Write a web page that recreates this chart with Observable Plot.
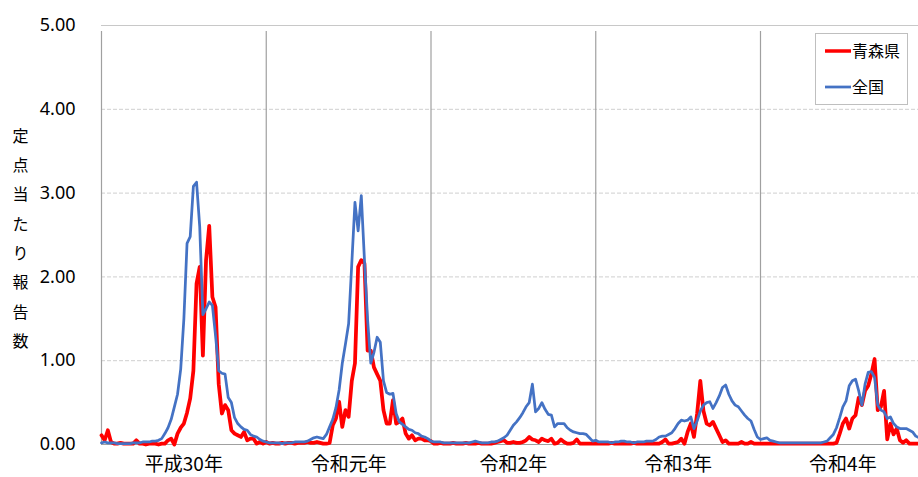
<!DOCTYPE html>
<html><head><meta charset="utf-8">
<script src="https://cdn.jsdelivr.net/npm/d3@7"></script>
<script src="https://cdn.jsdelivr.net/npm/@observablehq/plot@0.6"></script>
<style>
html,body{margin:0;padding:0;background:#fff;overflow:hidden}
</style>
</head><body><div id="chart"></div>
<script>
// Year labels (x categories)
const years = ["平成30年","令和元年","令和2年","令和3年","令和4年"];
const weeksPerYear = 52;
const yTicks = [0,1,2,3,4,5];
const yTitle = "定点当たり報告数";
const seriesNames = ["青森県","全国"];

// 青森県 weekly values per year
const aomori_H30 = [0.11,0.05,0.17,0.03,0.01,0.01,0.02,0.01,0.01,0.01,0.01,0.05,0.01,0.01,0.00,0.01,0.01,0.01,0.00,0.01,0.01,0.05,0.07,0.00,0.13,0.20,0.25,0.38,0.55,0.88,1.92,2.12,1.06,2.20,2.61,1.76,1.64,0.72,0.37,0.47,0.41,0.17,0.13,0.11,0.09,0.15,0.05,0.07,0.07,0.01,0.03,0.01];
const aomori_R1 = [0.03,0.01,0.02,0.01,0.01,0.02,0.01,0.02,0.02,0.01,0.02,0.02,0.02,0.03,0.02,0.02,0.03,0.02,0.01,0.01,0.02,0.23,0.31,0.51,0.21,0.41,0.33,0.76,0.97,2.12,2.20,2.16,1.12,1.12,0.92,0.84,0.76,0.41,0.25,0.25,0.53,0.25,0.27,0.31,0.13,0.07,0.11,0.05,0.07,0.07,0.05,0.05];
const aomori_R2 = [0.04,0.01,0.01,0.02,0.01,0.01,0.01,0.02,0.01,0.01,0.01,0.02,0.01,0.01,0.01,0.02,0.01,0.01,0.01,0.01,0.02,0.03,0.04,0.05,0.02,0.02,0.03,0.02,0.02,0.03,0.05,0.09,0.06,0.05,0.03,0.07,0.05,0.04,0.07,0.01,0.02,0.06,0.03,0.01,0.01,0.02,0.06,0.01,0.01,0.01,0.01,0.01];
const aomori_R3 = [0.01,0.01,0.01,0.01,0.01,0.02,0.01,0.01,0.01,0.01,0.01,0.01,0.02,0.01,0.01,0.01,0.01,0.01,0.01,0.01,0.01,0.03,0.06,0.01,0.01,0.02,0.03,0.07,0.01,0.15,0.25,0.09,0.37,0.76,0.40,0.25,0.23,0.27,0.19,0.11,0.03,0.05,0.01,0.01,0.01,0.01,0.03,0.01,0.01,0.03,0.01,0.01];
const aomori_R4 = [0.01,0.01,0.01,0.01,0.01,0.01,0.01,0.01,0.01,0.01,0.01,0.01,0.01,0.01,0.01,0.01,0.01,0.01,0.01,0.01,0.01,0.01,0.01,0.01,0.02,0.13,0.25,0.31,0.19,0.31,0.35,0.56,0.47,0.64,0.70,0.84,1.02,0.41,0.45,0.64,0.06,0.25,0.12,0.19,0.05,0.02,0.05,0.01,0.01,0.01,0.01];

// 全国 weekly values per year
const zenkoku_H30 = [0.02,0.03,0.02,0.02,0.02,0.01,0.01,0.01,0.01,0.01,0.02,0.02,0.02,0.03,0.03,0.03,0.04,0.04,0.05,0.07,0.13,0.20,0.30,0.45,0.60,0.90,1.50,2.40,2.48,3.08,3.13,2.60,1.55,1.62,1.70,1.66,1.30,0.88,0.85,0.84,0.56,0.50,0.32,0.25,0.21,0.18,0.17,0.12,0.10,0.09,0.06,0.04];
const zenkoku_R1 = [0.03,0.02,0.02,0.02,0.02,0.01,0.02,0.02,0.02,0.03,0.03,0.03,0.03,0.04,0.06,0.08,0.09,0.08,0.07,0.12,0.21,0.30,0.44,0.65,0.97,1.20,1.44,2.16,2.89,2.55,2.97,2.20,1.48,0.97,1.10,1.28,1.22,0.76,0.62,0.60,0.61,0.37,0.27,0.24,0.21,0.18,0.17,0.14,0.13,0.10,0.09,0.07];
const zenkoku_R2 = [0.04,0.03,0.03,0.03,0.02,0.02,0.02,0.02,0.02,0.02,0.02,0.02,0.02,0.03,0.04,0.03,0.02,0.02,0.02,0.03,0.03,0.04,0.06,0.08,0.11,0.17,0.23,0.27,0.32,0.38,0.45,0.50,0.72,0.39,0.43,0.50,0.42,0.36,0.35,0.21,0.25,0.25,0.25,0.20,0.17,0.15,0.14,0.13,0.13,0.12,0.08,0.04];
const zenkoku_R3 = [0.05,0.03,0.03,0.03,0.03,0.02,0.03,0.03,0.04,0.04,0.03,0.03,0.02,0.03,0.03,0.03,0.04,0.04,0.04,0.06,0.09,0.10,0.10,0.12,0.14,0.19,0.25,0.29,0.28,0.29,0.33,0.19,0.28,0.40,0.47,0.50,0.51,0.43,0.50,0.58,0.68,0.71,0.60,0.52,0.47,0.45,0.40,0.35,0.31,0.28,0.18,0.09];
const zenkoku_R4 = [0.06,0.07,0.08,0.05,0.04,0.03,0.02,0.02,0.02,0.02,0.02,0.02,0.02,0.02,0.02,0.02,0.02,0.02,0.02,0.02,0.03,0.04,0.08,0.12,0.20,0.32,0.45,0.52,0.70,0.76,0.78,0.64,0.47,0.72,0.86,0.87,0.80,0.47,0.41,0.39,0.31,0.33,0.25,0.21,0.19,0.19,0.19,0.17,0.15,0.10,0.08];

const aomoriYears = [aomori_H30, aomori_R1, aomori_R2, aomori_R3, aomori_R4];
const zenkokuYears = [zenkoku_H30, zenkoku_R1, zenkoku_R2, zenkoku_R3, zenkoku_R4];

function toRows(perYear) {
  const rows = [];
  perYear.forEach((arr, k) => arr.forEach((v, i) => rows.push({g: k * weeksPerYear + i, v})));
  return rows;
}
const aomori = toRows(aomoriYears);
const zenkoku = toRows(zenkokuYears);
const boundaries = d3.range(years.length).map(k => k * weeksPerYear);
const centers = years.map((y, k) => ({label: y, g: k * weeksPerYear + weeksPerYear / 2}));

const RED = "#ff0000", BLUE = "#4472c4";
const yearPx = 164.75;

const chart = Plot.plot({
  width: 918,
  height: 477,
  marginLeft: 101, marginTop: 25, marginBottom: 33, marginRight: 0,
  style: {fontFamily: "'Noto Sans','Noto Sans CJK JP',sans-serif", fontSize: "18px", background: "#fff", color: "#000"},
  x: {domain: [0, years.length * weeksPerYear], range: [101, 101 + years.length * yearPx], axis: null},
  y: {domain: [0, 5], range: [444, 25]},
  marks: [
    Plot.ruleY(yTicks.filter(d => d > 0 && d < 5), {stroke: "#cfcfcf", strokeDasharray: "4,2", strokeWidth: 1}),
    Plot.ruleY([5], {stroke: "#c8c8c8", strokeWidth: 1.2}),
    Plot.ruleX(boundaries, {y1: 0, y2: 5, insetBottom: -6, stroke: "#a0a0a0", strokeWidth: 1.2}),
    Plot.ruleY([0], {stroke: "#a0a0a0", strokeWidth: 1.2}),
    Plot.axisY({ticks: yTicks, tickFormat: d => d.toFixed(2), tickSize: 0, tickPadding: 26, fontSize: 18, label: null}),
    Plot.text(centers, {x: "g", y: () => 0, text: "label", dy: 20, fontSize: 19, fontFamily: "'Noto Sans CJK JP',sans-serif"}),
    Plot.text([Array.from(yTitle).join("\n")], {frameAnchor: "left", dx: -81, lineHeight: 1.83, fontSize: 16, fontFamily: "'Noto Sans CJK JP',sans-serif", textAnchor: "middle"}),
    Plot.line(aomori, {x: "g", y: "v", stroke: RED, strokeWidth: 3.75, strokeLinejoin: "round"}),
    Plot.line(zenkoku, {x: "g", y: "v", stroke: BLUE, strokeWidth: 2.75, strokeLinejoin: "round"})
  ]
});
document.getElementById("chart").appendChild(chart);

// Legend inside the plot area
const svg = d3.select(chart);
const lg = svg.append("g").attr("font-family", "'Noto Sans CJK JP',sans-serif").attr("font-size", 16).attr("text-anchor", "start");
lg.append("rect").attr("x", 815.5).attr("y", 33.5).attr("width", 92).attr("height", 71)
  .attr("fill", "#fff").attr("stroke", "#bfbfbf");
const items = [{name: seriesNames[0], color: RED, w: 3.5}, {name: seriesNames[1], color: BLUE, w: 2.75}];
items.forEach((it, i) => {
  const yy = 51 + i * 36;
  lg.append("line").attr("x1", 825).attr("x2", 851).attr("y1", yy).attr("y2", yy)
    .attr("stroke", it.color).attr("stroke-width", it.w);
  lg.append("text").attr("x", 852).attr("y", yy).attr("dy", "0.35em").attr("text-anchor", "start").text(it.name);
});
</script>
</body></html>
